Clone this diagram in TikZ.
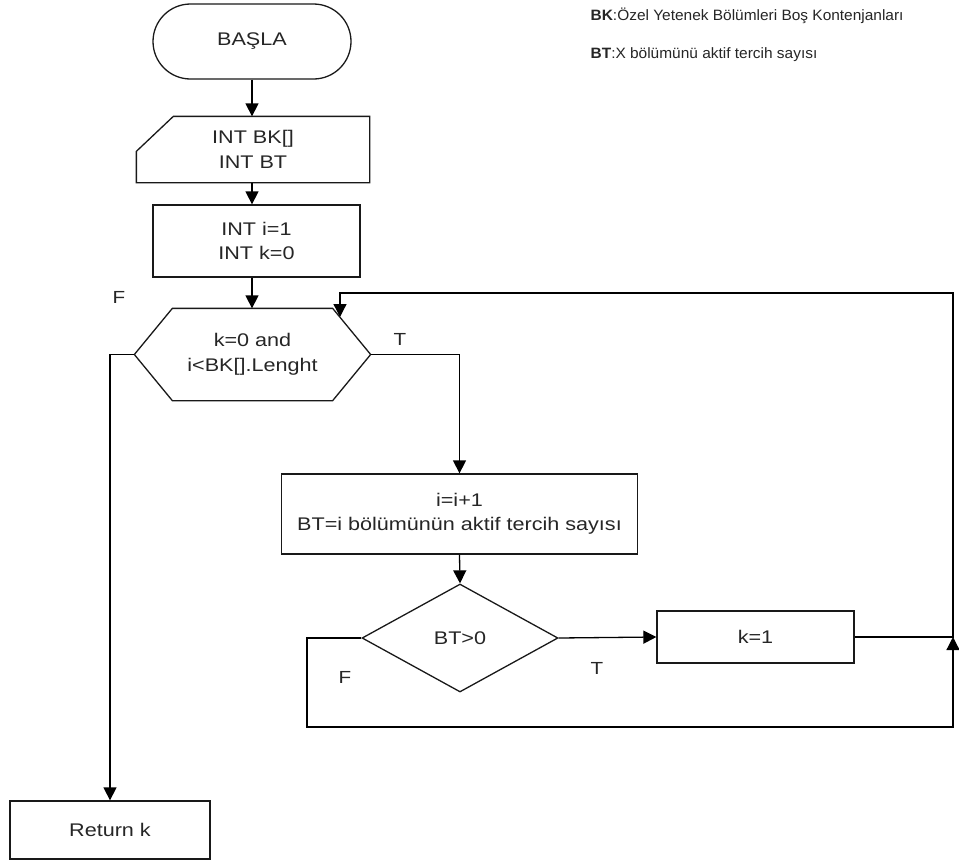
\documentclass[tikz,border=0pt]{standalone}
\usepackage{fontspec}
\setmainfont{Liberation Sans}[FakeStretch=1.18]
\newfontfamily\legendfont{Liberation Sans}[FakeStretch=1.03]
\usetikzlibrary{shapes.geometric,shapes.misc,arrows.meta,calc}

\begin{document}
\begin{tikzpicture}[x=1pt,y=-1pt,line width=1.3pt,
  every node/.style={font=\fontsize{18.3}{24.5}\selectfont,text=black!85,
    inner sep=0pt,align=center},
  boxed/.style={draw=black!90,rectangle,minimum width=#1},
  terminal/.style={draw=black!90,rounded rectangle,minimum width=198pt,minimum height=75pt},
  decision/.style={draw=black!90,diamond,aspect=1.8,minimum width=196pt,minimum height=108pt},
  shapeonly/.style={rectangle,draw=none},
  outline/.style={draw=black!90,line join=miter},
  flow/.style={draw=black,-{Triangle[length=13pt,width=13pt]}},
  legend/.style={font=\legendfont\fontsize{15}{18}\selectfont,anchor=base west},
  branch/.style={font=\fontsize{17.5}{20}\selectfont}]

  % page area
  \fill[white] (0,0) rectangle (959,863);
  \useasboundingbox (0,0) rectangle (959,863);

  % legend
  \node[legend] (bk) at (590,20) {\textbf{BK}:Özel Yetenek Bölümleri Boş Kontenjanları};
  \node[legend] (bt) at (590,58) {\textbf{BT}:X bölümünü aktif tercih sayısı};

  % start
  \node[terminal] (start) at (252,41.5) {BAŞLA};

  % manual input
  \node[shapeonly,minimum width=232pt,minimum height=65pt] (input) at (253,149.5) {INT BK[]\\INT BT};
  \draw[outline] (input.south west) -- (input.south east) -- (input.north east)
    -- ($(input.north west)+(37,0)$) -- ($(input.north west)+(0,35)$) -- cycle;

  % initialisation
  \node[boxed=207pt,minimum height=72pt] (init) at (256.5,241) {INT i=1\\INT k=0};

  % loop condition (hexagon)
  \node[shapeonly,minimum width=235pt,minimum height=91pt] (cond) at (252.5,354.5) {k=0 and\\i<BK[].Lenght};
  \draw[outline] (cond.west) -- ($(cond.north west)+(38,0)$) -- ($(cond.north east)+(-38,0)$)
    -- (cond.east) -- ($(cond.south east)+(-38,0)$) -- ($(cond.south west)+(38,0)$) -- cycle;

  % loop body
  \node[boxed=356pt,minimum height=80pt] (proc) at (459.5,514) {i=i+1\\BT=i bölümünün aktif tercih sayısı};
  \node[decision] (dec) at (460,638) {BT>0};
  \node[boxed=197pt,minimum height=52pt] (k1) at (755.5,637) {k=1};

  % result
  \node[boxed=200pt,minimum height=58pt] (ret) at (110,830) {Return k};

  % branch labels
  \node[branch] (fout) at (119,297) {F};
  \node[branch] (tout) at (400,339) {T};
  \node[branch] (fin) at (345,677) {F};
  \node[branch] (tin) at (597,668) {T};

  % helper points of the loop lines
  \coordinate (rtop) at (953,293);
  \coordinate (loopin) at (340,317);
  \coordinate (fbot) at (307,727);
  \coordinate (join) at (953,637);

  % main column
  \draw[flow] (start.south) -- (start.south |- input.north);
  \draw[flow] (start.south |- input.south) -- (start.south |- init.north);
  \draw[flow] (start.south |- init.south) -- (start.south |- cond.north);

  % branches of the loop condition
  \draw[flow] (cond.east) -| (proc.north);
  \draw[flow] (cond.west) -| (ret.north);

  % loop body flow
  \draw[flow] (proc.south) -- (dec.north);
  \draw[flow] (dec.east) -- (k1.west);
  \draw[flow] (k1.east) -| (rtop) -| (loopin);
  \draw[flow] (dec.west) -| (fbot) -| (join);
\end{tikzpicture}
\end{document}
